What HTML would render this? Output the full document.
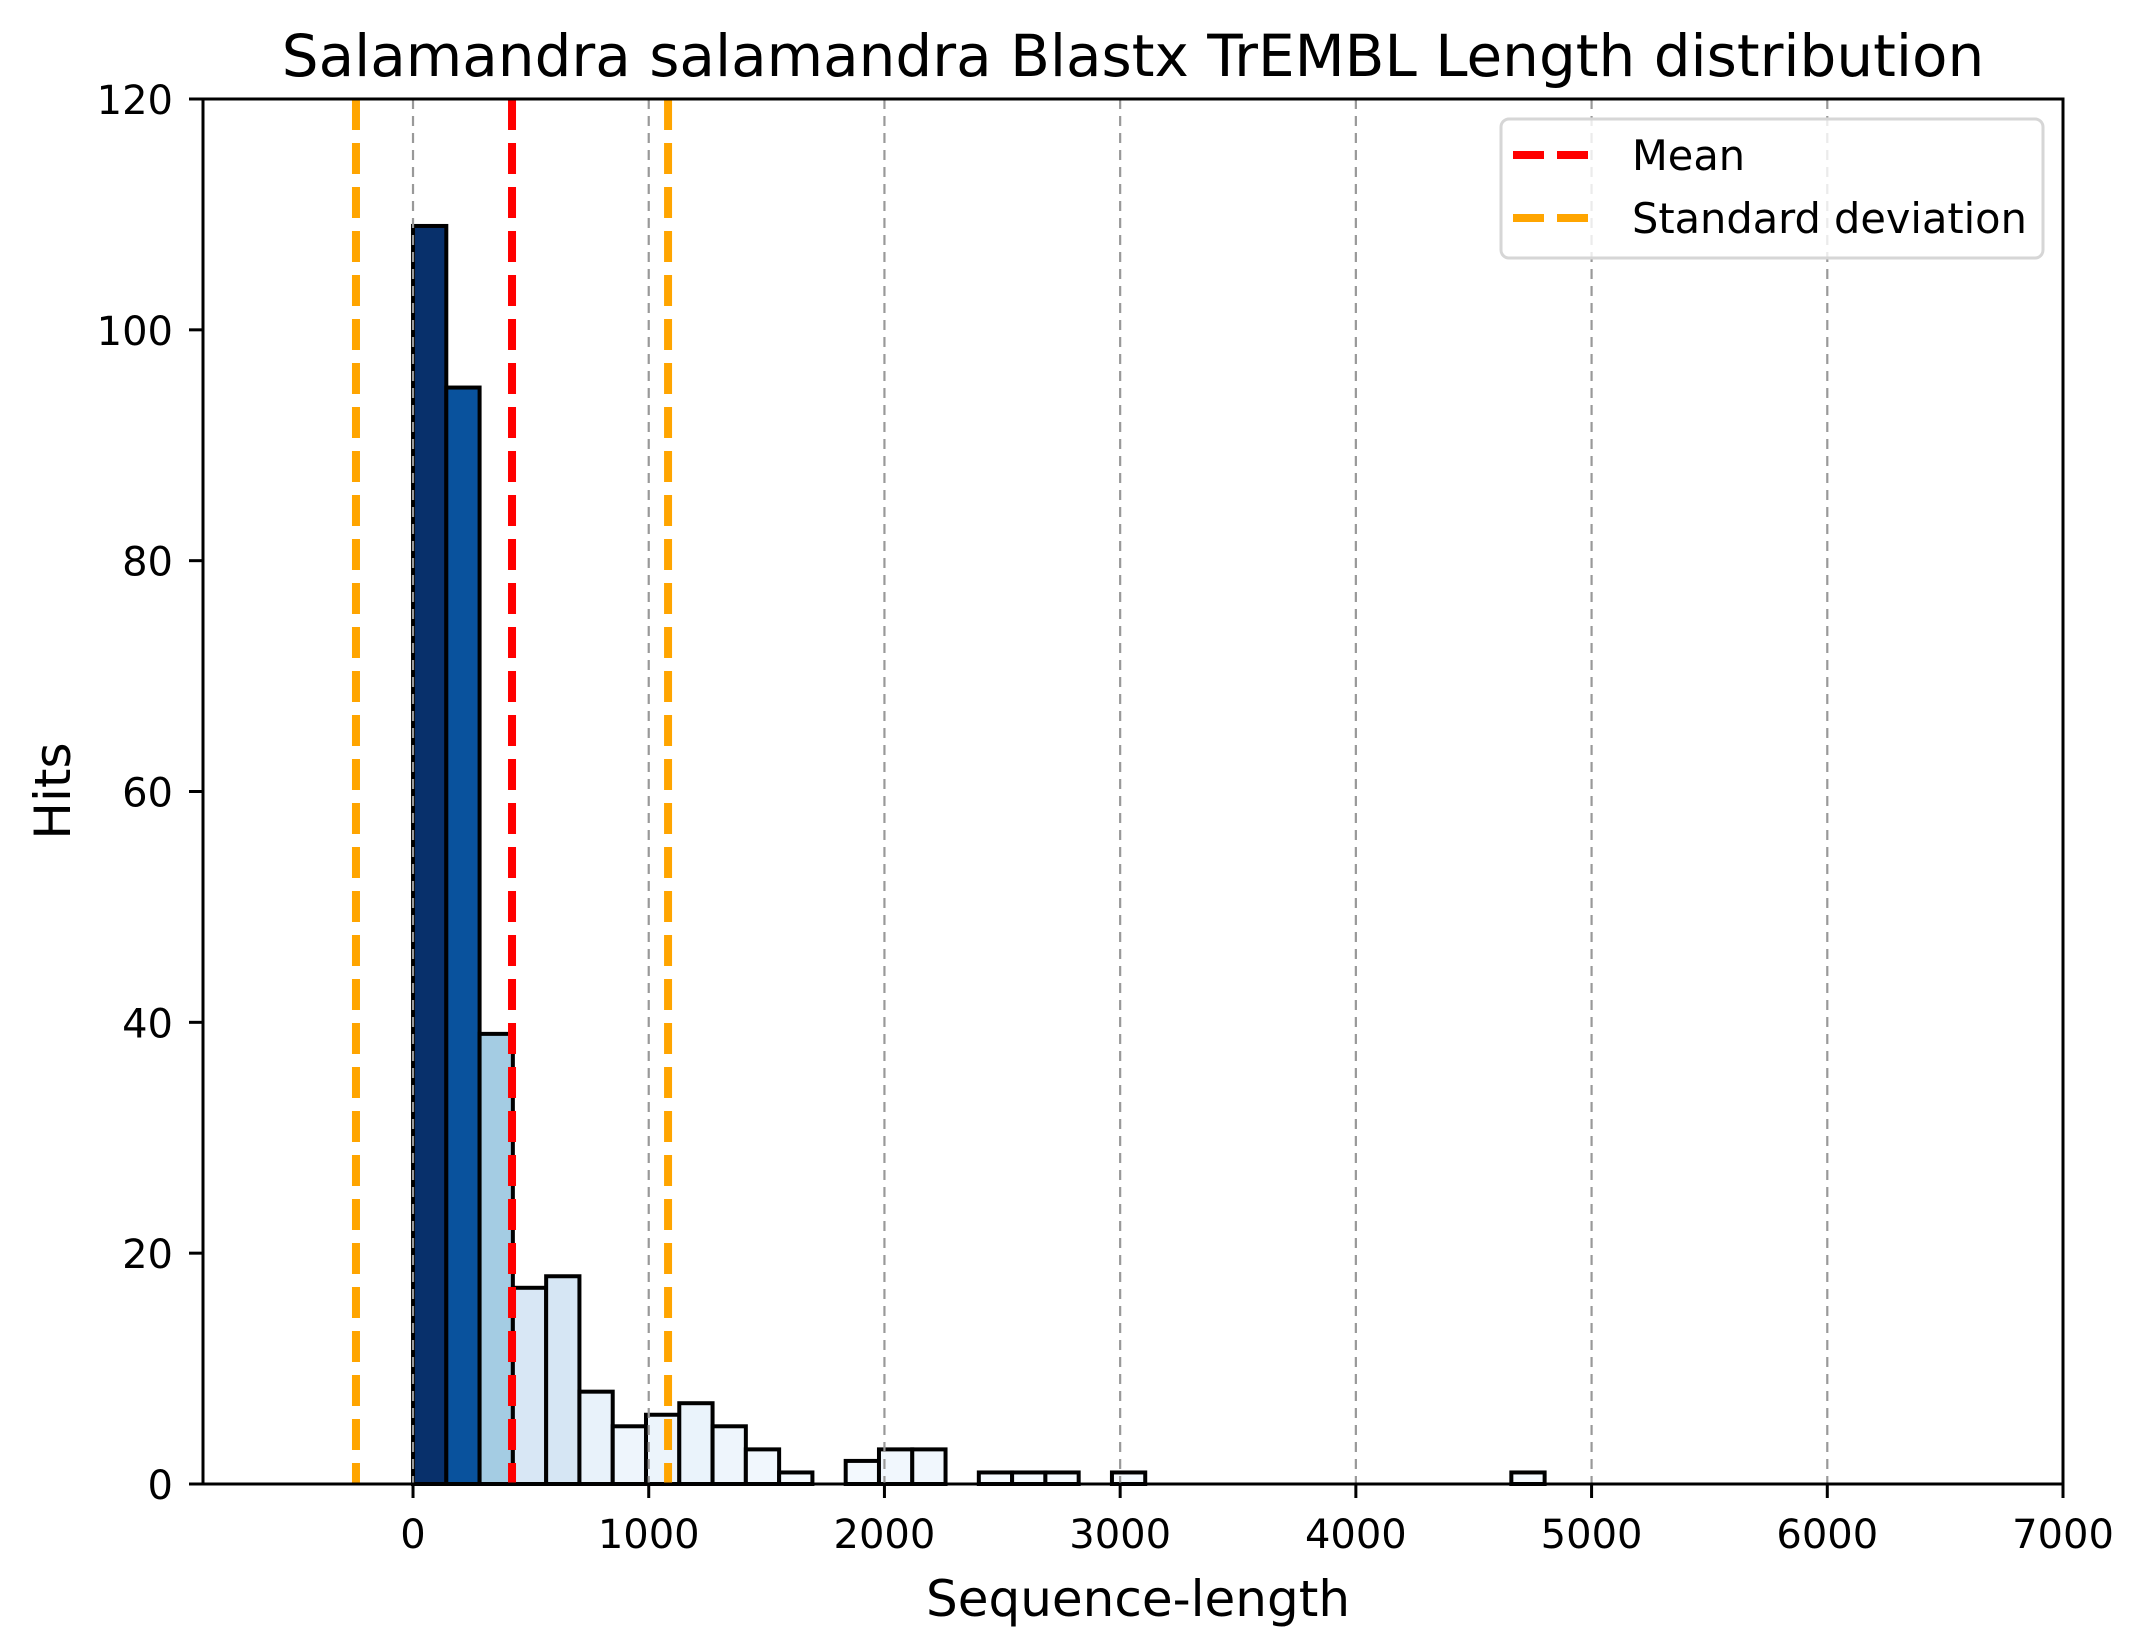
<!DOCTYPE html>
<html><head><meta charset="utf-8"><style>
html,body{margin:0;padding:0;background:#fff;}
svg{display:block;font-family:"DejaVu Sans","Liberation Sans",sans-serif;}
</style></head><body>
<svg id="chart" width="2146" height="1651" viewBox="0 0 2146 1651" xmlns="http://www.w3.org/2000/svg">
<rect width="2146" height="1651" fill="#fff"/>
<g id="bars"></g>
<g id="gridTop"></g>
<g id="stats"></g>
<g id="axes"></g>
<text x="1133" y="76" text-anchor="middle" font-size="58">Salamandra salamandra Blastx TrEMBL Length distribution</text>
<text x="1138" y="1616" text-anchor="middle" font-size="50">Sequence-length</text>
<text transform="translate(70,791) rotate(-90)" text-anchor="middle" font-size="50">Hits</text>
<g>
<rect x="1501" y="119" width="542" height="139" rx="8" fill="#fff" fill-opacity="0.8" stroke="#d6d6d6" stroke-width="3"/>
<line x1="1513" y1="155" x2="1588" y2="155" stroke="#ff0000" stroke-width="8" stroke-dasharray="31 13"/>
<text x="1632" y="170" font-size="41.5">Mean</text>
<line x1="1513" y1="218" x2="1588" y2="218" stroke="#ffa500" stroke-width="8" stroke-dasharray="31 13"/>
<text x="1632" y="233" font-size="41.5">Standard deviation</text>
</g>
</svg>
<script>
const binStart = 0;
const binWidth = 141.2;
const counts = [109,95,39,17,18,8,5,6,7,5,3,1,0,2,3,3,0,1,1,1,0,1,0,0,0,0,0,0,0,0,0,0,0,1];
const meanValue = 420;
const stdValue = 662;
const xTicks = [0,1000,2000,3000,4000,5000,6000,7000];
const yTicks = [0,20,40,60,80,100,120];

const NS = "http://www.w3.org/2000/svg";
const L = 203, R = 2063, T = 99, B = 1484;
const xMin = -891, xMax = 7000, yMin = 0, yMax = 120;
function sx(v){ return L + (v - xMin) / (xMax - xMin) * (R - L); }
function sy(v){ return B - (v - yMin) / (yMax - yMin) * (B - T); }
function mk(tag, attrs, parent){ const e = document.createElementNS(NS, tag); for (const k in attrs) e.setAttribute(k, attrs[k]); parent.appendChild(e); return e; }
const stops = [[0,[247,251,255]],[.125,[222,235,247]],[.25,[198,219,239]],[.375,[158,202,225]],[.5,[107,174,214]],[.625,[66,146,198]],[.75,[33,113,181]],[.875,[8,81,156]],[1,[8,48,107]]];
function blues(t){
  for (let i=1;i<stops.length;i++){ if (t<=stops[i][0]){ const a=stops[i-1],b=stops[i],f=(t-a[0])/(b[0]-a[0]); return 'rgb('+a[1].map((c,j)=>Math.round(c+(b[1][j]-c)*f)).join(',')+')'; } }
  return 'rgb(8,48,107)';
}
const maxC = Math.max(...counts);
const bars = document.getElementById('bars');
counts.forEach((c, i) => {
  if (c <= 0) return;
  const x0 = sx(binStart + i*binWidth), x1 = sx(binStart + (i+1)*binWidth);
  const r = mk('rect', {x:x0, y:sy(c), width:x1-x0, height:sy(0)-sy(c), fill:blues(c/maxC), stroke:'#000', 'stroke-width':4}, bars);
  
  
});
const gridTop = document.getElementById('gridTop');
xTicks.forEach(t => {
  const g = mk('line', {x1:sx(t), x2:sx(t), y1:T, y2:B, stroke:'#999', 'stroke-width':2.2, 'stroke-dasharray':'10 7'}, gridTop);
  
  
});
const stats = document.getElementById('stats');
[[meanValue - stdValue,'#ffa500','std-lower-line'],[meanValue + stdValue,'#ffa500','std-upper-line'],[meanValue,'#ff0000','mean-line']].forEach(d => {
  const l = mk('line', {x1:sx(d[0]), x2:sx(d[0]), y1:T, y2:B, stroke:d[1], 'stroke-width':8, 'stroke-dasharray':'31 13'}, stats);
  
  
});
const axes = document.getElementById('axes');
const frame = mk('rect', {x:L, y:T, width:R-L, height:B-T, fill:'none', stroke:'#000', 'stroke-width':3}, axes);


xTicks.forEach(t => {
  const tk = mk('line', {x1:sx(t), x2:sx(t), y1:B, y2:B+14, stroke:'#000', 'stroke-width':3}, axes);
  
  
  const tx = mk('text', {x:sx(t), y:1548, 'text-anchor':'middle', 'font-size':40}, axes);
  tx.textContent = t;
  
  
});
yTicks.forEach(t => {
  const tk = mk('line', {x1:L-14, x2:L, y1:sy(t), y2:sy(t), stroke:'#000', 'stroke-width':3}, axes);
  
  
  const tx = mk('text', {x:173, y:sy(t)+15, 'text-anchor':'end', 'font-size':40}, axes);
  tx.textContent = t;
  
  
});
</script>
</body></html>
